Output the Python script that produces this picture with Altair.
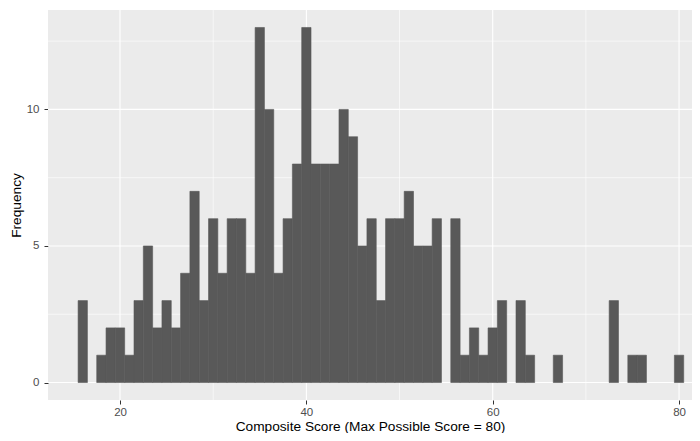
import altair as alt
import pandas as pd

# Histogram bins (bin width 1, centred on integer scores)
scores = list(range(16, 81))
counts = [3, 0, 1, 2, 2, 1, 3, 5, 2, 3,
          2, 4, 7, 3, 6, 4, 6, 6, 4, 13,
          10, 4, 6, 8, 13, 8, 8, 8, 10, 9,
          5, 6, 3, 6, 6, 7, 5, 5, 6, 0,
          6, 1, 2, 1, 2, 3, 0, 3, 1, 0,
          0, 1, 0, 0, 0, 0, 0, 3, 0, 1,
          1, 0, 0, 0, 1]

x_major = [20, 40, 60, 80]
x_minor = [30, 50, 70]
y_major = [0, 5, 10]
y_minor = [2.5, 7.5, 12.5]

x_domain = [12.27, 81.39]
y_domain = [-0.64, 13.64]

df = pd.DataFrame({"score": scores, "count": counts})

FONT = "Liberation Sans"

xscale = alt.Scale(domain=x_domain, nice=False, zero=False)
yscale = alt.Scale(domain=y_domain, nice=False, zero=False)

x_axis = alt.Axis(
    values=x_major, grid=False, domain=False, tickSize=4, tickColor="#333333",
    tickWidth=1, labelPadding=11, labelBaseline="alphabetic", labelFontSize=11.5,
    labelColor="#4D4D4D", labelFont=FONT, title="Composite Score (Max Possible Score = 80)",
    titleFont=FONT, titleFontSize=13.7, titleFontWeight="normal", titleColor="#000000",
    titleBaseline="alphabetic", titleY=30, labelFlush=False,
)
y_axis = alt.Axis(
    values=y_major, grid=False, domain=False, tickSize=4, tickColor="#333333",
    tickWidth=1, labelPadding=5, labelFontSize=11.5, labelColor="#4D4D4D",
    labelFont=FONT, title="Frequency", titleFont=FONT, titleFontSize=13.7,
    titleFontWeight="normal", titleColor="#000000", titleAngle=270,
    titleBaseline="alphabetic", titleX=-28, titleY=195, titleAlign="center",
    labelFlush=False,
)

vminor = alt.Chart(pd.DataFrame({"v": x_minor})).mark_rule(
    color="white", strokeWidth=0.6).encode(x=alt.X("v:Q", scale=xscale, axis=x_axis))
vmajor = alt.Chart(pd.DataFrame({"v": x_major})).mark_rule(
    color="white", strokeWidth=1.1).encode(x=alt.X("v:Q", scale=xscale, axis=x_axis))
hminor = alt.Chart(pd.DataFrame({"v": y_minor})).mark_rule(
    color="white", strokeWidth=0.6).encode(y=alt.Y("v:Q", scale=yscale, axis=y_axis))
hmajor = alt.Chart(pd.DataFrame({"v": y_major})).mark_rule(
    color="white", strokeWidth=1.1).encode(y=alt.Y("v:Q", scale=yscale, axis=y_axis))

bars = alt.Chart(df).transform_filter("datum.count > 0").transform_calculate(
    lo="datum.score - 0.5", hi="datum.score + 0.5"
).mark_bar(color="#595959", stroke="#595959", strokeWidth=0.6).encode(
    x=alt.X("lo:Q", scale=xscale, axis=x_axis),
    x2="hi:Q",
    y=alt.Y("count:Q", scale=yscale, axis=y_axis),
    y2=alt.datum(0),
)

chart = alt.layer(vminor, vmajor, hminor, hmajor, bars).properties(
    width=644, height=390,
    background="white",
    autosize=alt.AutoSizeParams(type="none"),
    padding={"left": 40, "top": 2, "right": 0, "bottom": 33},
).configure_view(fill="#EBEBEB", strokeWidth=0)

chart.save("out.html", embed_options={"renderer": "svg", "actions": False})
